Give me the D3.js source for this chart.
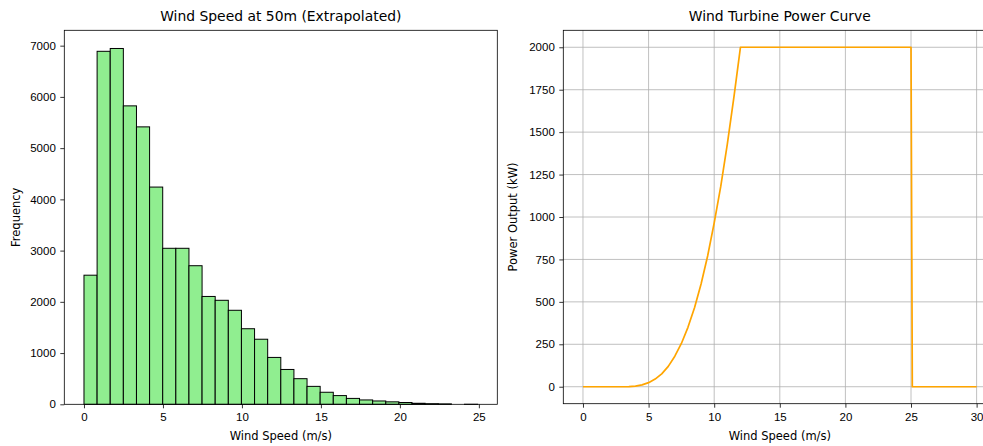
<!DOCTYPE html>
<html>
<head>
<meta charset="utf-8">
<script src="https://cdn.jsdelivr.net/npm/d3@7"></script>
<style>
  html, body { margin: 0; padding: 0; background: #fff; }
  svg { display: block; font-family: "DejaVu Sans", sans-serif; }
  .tick text { fill: #000; font-size: 11.5px; }
  .tick line { stroke: #000; stroke-width: 0.8; }
</style>
</head>
<body>
<svg id="chart" width="983" height="446"></svg>
<script>
// histogram: 30 bins from 0 to ~24.92 m/s
const speedBinCounts = [2520, 6890, 6945, 5825, 5415, 4240, 3045, 3045, 2705, 2105,
                        2030, 1835, 1475, 1270, 915, 680, 500, 350, 235, 170,
                        115, 85, 65, 48, 35, 20, 12, 8, 0, 1];
const binWidth = 0.8307;
const histXTicks = [0, 5, 10, 15, 20, 25];
const histYTicks = [0, 1000, 2000, 3000, 4000, 5000, 6000, 7000];

// power curve
const curveSpeeds = [0, 1, 2, 3, 3.5, 4, 4.5, 5, 5.5, 6, 6.5, 7, 7.5, 8, 8.5, 9, 9.5, 10,
                     10.5, 11, 11.5, 12, 25, 25.1, 30];
const curvePower = [0, 0, 0, 0, 1, 4, 11, 24, 45, 76, 120, 180, 255, 350, 465, 605, 770, 965,
                    1180, 1430, 1705, 2000, 2000, 0, 0];
const powerXTicks = [0, 5, 10, 15, 20, 25, 30];
const powerYTicks = [0, 250, 500, 750, 1000, 1250, 1500, 1750, 2000];

const svg = d3.select('#chart');

function drawFrame(g, x, y, xTicks, yTicks, grid, title, xLabel, yLabel, yLabelX) {
    const [x0, x1] = x.range();
    const [y0, y1] = y.range();

    if (grid) {
        g.append('g').selectAll('line').data(xTicks).join('line')
            .attr('x1', d => x(d)).attr('x2', d => x(d))
            .attr('y1', y1).attr('y2', y0)
            .attr('stroke', '#b0b0b0').attr('stroke-width', 0.8);
        g.append('g').selectAll('line').data(yTicks).join('line')
            .attr('x1', x0).attr('x2', x1)
            .attr('y1', d => y(d)).attr('y2', d => y(d))
            .attr('stroke', '#b0b0b0').attr('stroke-width', 0.8);
    }

    const xa = g.append('g').attr('class', 'axis')
        .attr('transform', 'translate(0,' + y0 + ')')
        .call(d3.axisBottom(x).tickValues(xTicks).tickFormat(d3.format('d'))
            .tickSize(4).tickPadding(5).tickSizeOuter(0));
    xa.select('.domain').remove();

    const ya = g.append('g').attr('class', 'axis')
        .attr('transform', 'translate(' + x0 + ',0)')
        .call(d3.axisLeft(y).tickValues(yTicks).tickFormat(d3.format('d'))
            .tickSize(4).tickPadding(4.5).tickSizeOuter(0));
    ya.select('.domain').remove();

    g.append('text')
        .attr('x', (x0 + x1) / 2).attr('y', 20.5)
        .attr('text-anchor', 'middle').attr('font-size', 13.9).attr('fill', '#000')
        .text(title);
    g.append('text')
        .attr('x', (x0 + x1) / 2).attr('y', 440)
        .attr('text-anchor', 'middle').attr('font-size', 11.5).attr('fill', '#000')
        .text(xLabel);
    g.append('text')
        .attr('transform', 'translate(' + yLabelX + ',' + (y0 + y1) / 2 + ') rotate(-90)')
        .attr('text-anchor', 'middle').attr('font-size', 11.5).attr('fill', '#000')
        .text(yLabel);
}

function drawSpines(g, x, y) {
    const [x0, x1] = x.range();
    const [y0, y1] = y.range();
    g.append('rect')
        .attr('x', x0).attr('y', y1)
        .attr('width', x1 - x0).attr('height', y0 - y1)
        .attr('fill', 'none').attr('stroke', '#000').attr('stroke-width', 0.8);
}

/*====================================
Left: wind speed histogram
======================================*/
(function () {
    const maxEdge = binWidth * speedBinCounts.length;
    const pad = maxEdge * 0.05;
    const x = d3.scaleLinear().domain([-pad, maxEdge + pad]).range([64.3, 497.3]);
    const y = d3.scaleLinear().domain([0, 7300]).range([404.3, 30.3]);
    const g = svg.append('g');

    drawFrame(g, x, y, histXTicks, histYTicks, false,
        'Wind Speed at 50m (Extrapolated)', 'Wind Speed (m/s)', 'Frequency', 20);

    g.append('g').selectAll('rect').data(speedBinCounts).join('rect')
        .attr('x', (d, i) => x(i * binWidth))
        .attr('width', (d, i) => x((i + 1) * binWidth) - x(i * binWidth))
        .attr('y', d => y(d))
        .attr('height', d => y(0) - y(d))
        .attr('fill', '#90ee90')
        .attr('stroke', '#000')
        .attr('stroke-width', 1);

    drawSpines(g, x, y);
})();

/*====================================
Right: turbine power curve
======================================*/
(function () {
    const x = d3.scaleLinear().domain([-1.5, 31.5]).range([563.3, 996.3]);
    const y = d3.scaleLinear().domain([-100, 2100]).range([403.7, 30.3]);
    const g = svg.append('g');

    drawFrame(g, x, y, powerXTicks, powerYTicks, true,
        'Wind Turbine Power Curve', 'Wind Speed (m/s)', 'Power Output (kW)', 516.7);

    const line = d3.line()
        .x((d, i) => x(curveSpeeds[i]))
        .y(d => y(d));

    g.append('path')
        .datum(curvePower)
        .attr('d', line)
        .attr('fill', 'none')
        .attr('stroke', '#ffa500')
        .attr('stroke-width', 1.7)
        .attr('stroke-linejoin', 'round');

    drawSpines(g, x, y);
})();
</script>
</body>
</html>
